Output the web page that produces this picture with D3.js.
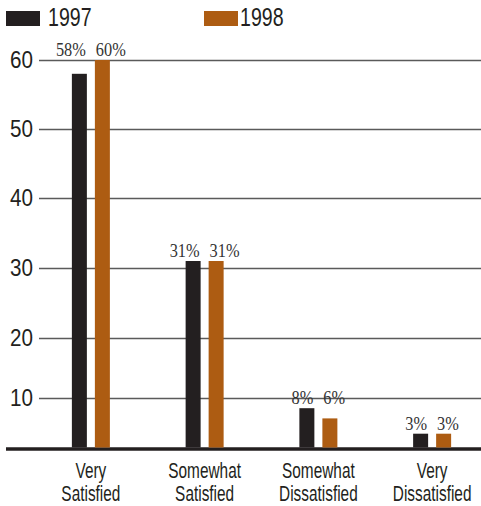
<!DOCTYPE html>
<html>
<head>
<meta charset="utf-8">
<script src="https://cdn.jsdelivr.net/npm/d3@7"></script>
<style>
  html, body { margin: 0; padding: 0; background: #fff; }
  svg { display: block; }
</style>
</head>
<body>
<div id="chart"></div>
<script>
// ---- data ----
const categories = [["Very", "Satisfied"], ["Somewhat", "Satisfied"], ["Somewhat", "Dissatisfied"], ["Very", "Dissatisfied"]];
const seriesNames = ["1997", "1998"];
const values1997 = [58, 31, 8, 3];
const values1998 = [60, 31, 6, 3];
const tickValues = [10, 20, 30, 40, 50, 60];

// ---- layout ----
const W = 481, H = 506;
const colors = { "1997": "#231f20", "1998": "#ad5c12" };
const sans = "'Liberation Sans', Arial, sans-serif";
const serif = "'Liberation Serif', 'Times New Roman', serif";

const svg = d3.select("#chart").append("svg").attr("width", W).attr("height", H);

const catKeys = categories.map(c => c.join(" "));
const data = catKeys.map((k, i) => ({
  key: k, lines: categories[i],
  vals: [{ s: "1997", v: values1997[i] }, { s: "1998", v: values1998[i] }]
}));

// y: piecewise scale matching the original's uneven spacing
const y = d3.scaleLinear()
  .domain([0, 10, 20, 30, 40, 50, 60])
  .range([449, 398, 338, 268, 198, 129, 60]);

const x = d3.scaleBand().domain(catKeys).range([34, 489]).padding(0);
const inner = d3.scaleBand().domain(seriesNames).range([-19, 19]).paddingInner(0.348).paddingOuter(0);

// gridlines + tick labels via axis
const axisX = 39;
const tickScale = 0.86;
const axis = svg.append("g")
  .attr("transform", `translate(${axisX},0)`)
  .call(d3.axisLeft(y).tickValues(tickValues).tickSize(-(W - axisX)).tickPadding(6).tickFormat(d3.format("d")));
axis.select(".domain").remove();
axis.selectAll(".tick line").attr("stroke", "#5a5a5a").attr("stroke-width", 1.4);
axis.selectAll(".tick text")
  .attr("fill", "#231f20")
  .attr("font-family", sans)
  .attr("font-size", 24)
  .attr("x", -6 / tickScale)
  .attr("transform", `scale(${tickScale},1)`)
  .attr("dy", "0.33em");

// baseline
svg.append("line")
  .attr("x1", 6).attr("x2", W)
  .attr("y1", y(0)).attr("y2", y(0))
  .attr("stroke", "#231f20").attr("stroke-width", 3.5);

// bars
const groups = svg.selectAll("g.grp").data(data).join("g")
  .attr("class", "grp")
  .attr("transform", d => `translate(${x(d.key) + x.bandwidth() / 2},0)`);

groups.selectAll("rect").data(d => d.vals).join("rect")
  .attr("x", d => inner(d.s))
  .attr("width", inner.bandwidth())
  .attr("y", d => y(d.v))
  .attr("height", d => y(0) - 1.5 - y(d.v))
  .attr("fill", d => colors[d.s]);

// value labels
const valScale = 0.86;
groups.each(function (g) {
  const gmax = d3.max(g.vals, d => d.v);
  d3.select(this).selectAll("text.val").data(g.vals).join("text")
    .attr("class", "val")
    .attr("transform", `scale(${valScale},1)`)
    .attr("x", d => (d.s === "1997" ? inner(d.s) + inner.bandwidth() - 1 : inner(d.s) + 1) / valScale)
    .attr("y", d => y(gmax) - 4)
    .attr("text-anchor", d => d.s === "1997" ? "end" : "start")
    .attr("font-family", serif)
    .attr("font-size", 19)
    .attr("fill", "#333")
    .text(d => d.v + "%");
});

// category labels
groups.each(function (g) {
  const t = d3.select(this).append("text")
    .attr("text-anchor", "middle")
    .attr("font-family", sans)
    .attr("font-size", 22)
    .attr("fill", "#231f20")
    .attr("transform", "scale(0.7,1)");
  g.lines.forEach((ln, i) => {
    t.append("tspan").attr("x", 0).attr("y", 478 + i * 23).text(ln);
  });
});

// legend
const legendX = [6, 204];
const legendTextGap = [8, 2];
const legScale = 0.74;
seriesNames.forEach((s, i) => {
  svg.append("rect")
    .attr("x", legendX[i]).attr("y", 11)
    .attr("width", 34).attr("height", 15)
    .attr("fill", colors[s]);
  svg.append("text")
    .attr("x", (legendX[i] + 34 + legendTextGap[i]) / legScale)
    .attr("y", 26)
    .attr("transform", `scale(${legScale},1)`)
    .attr("font-family", sans)
    .attr("font-size", 26.5)
    .attr("fill", "#231f20")
    .text(s);
});
</script>
</body>
</html>
